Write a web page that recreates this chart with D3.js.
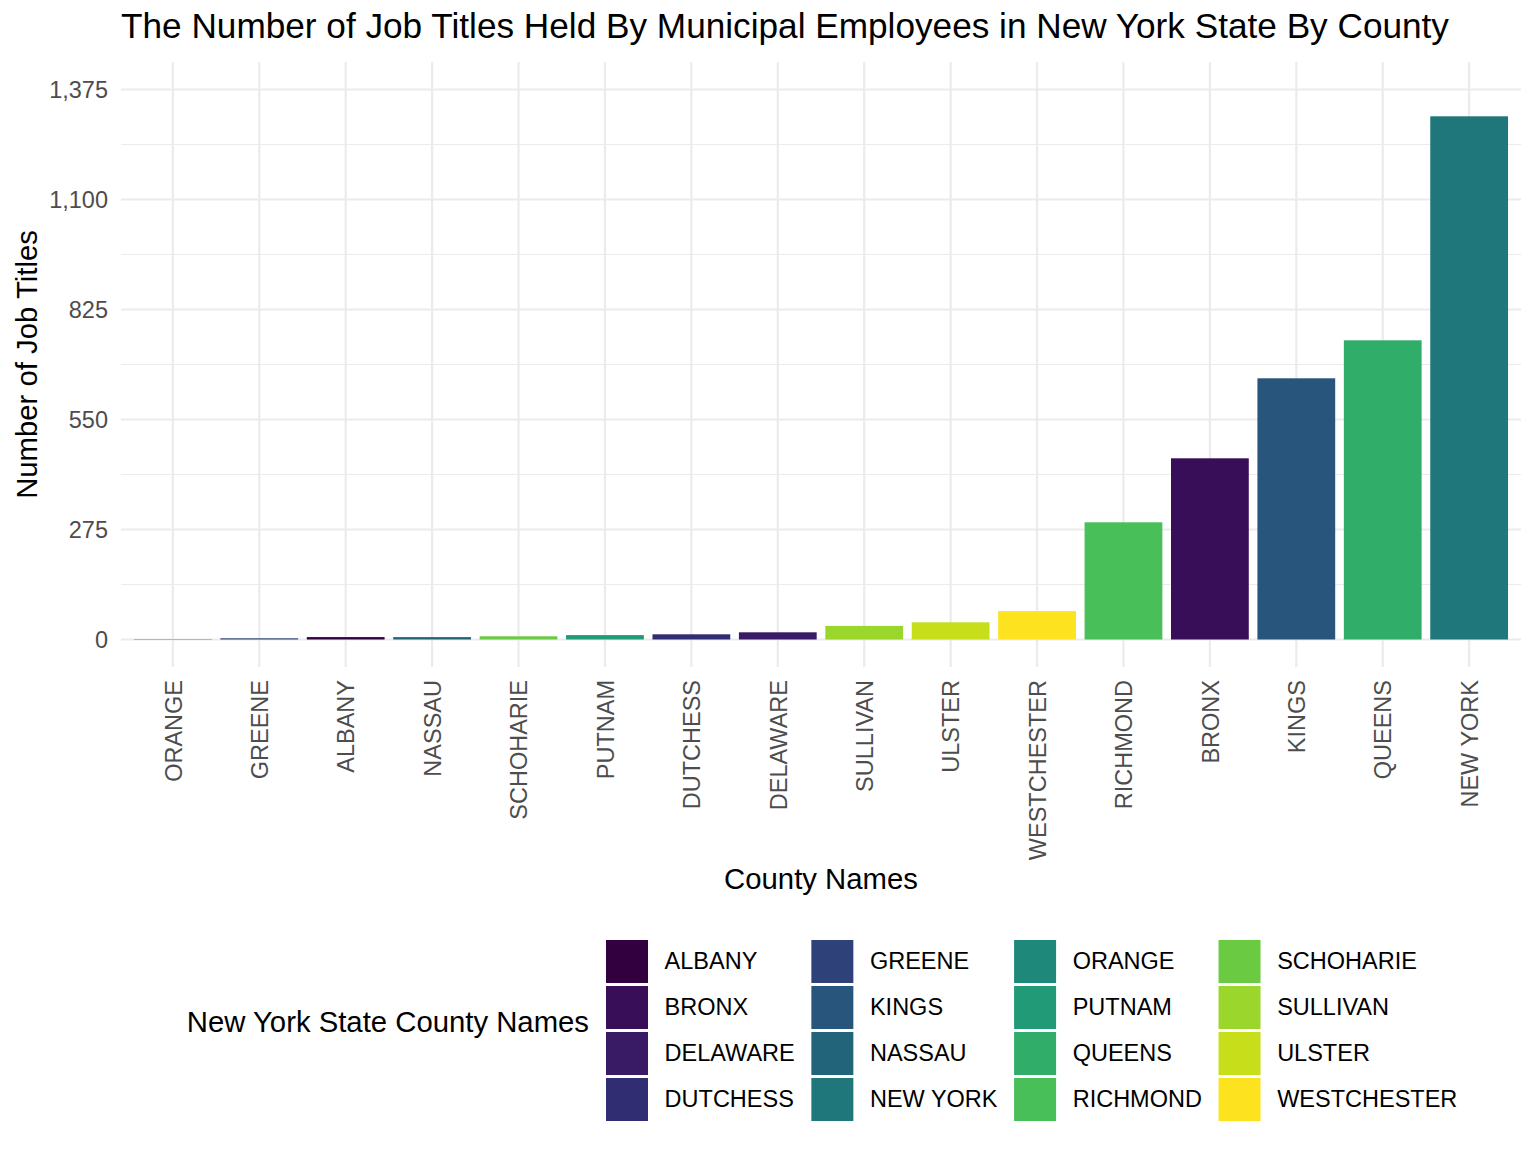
<!DOCTYPE html>
<html>
<head>
<meta charset="utf-8">
<script src="https://cdn.jsdelivr.net/npm/d3@7"></script>
<style>
  body { margin: 0; background: #fff; }
  svg text { font-family: "Liberation Sans", Arial, Helvetica, sans-serif; }
</style>
</head>
<body>
<div id="chart"></div>
<script>
// counties in the order they appear on the x axis (sorted by count)
const counties = ["ORANGE", "GREENE", "ALBANY", "NASSAU", "SCHOHARIE", "PUTNAM", "DUTCHESS", "DELAWARE",
  "SULLIVAN", "ULSTER", "WESTCHESTER", "RICHMOND", "BRONX", "KINGS", "QUEENS", "NEW YORK"];
const jobTitles = [1, 3, 6, 6, 8, 11, 13, 18, 34, 43, 71, 293, 453, 653, 748, 1308];
const yTicks = [0, 275, 550, 825, 1100, 1375];
const yMinorTicks = [137.5, 412.5, 687.5, 962.5, 1237.5];
// legend / fill order (alphabetical, like the factor levels)
const legendCounties = ["ALBANY", "BRONX", "DELAWARE", "DUTCHESS", "GREENE", "KINGS", "NASSAU", "NEW YORK",
  "ORANGE", "PUTNAM", "QUEENS", "RICHMOND", "SCHOHARIE", "SULLIVAN", "ULSTER", "WESTCHESTER"];
const palette = ["#33003f", "#390e58", "#391b65", "#312d72", "#2e4179", "#27557b", "#22657b", "#1f777b",
  "#1e897a", "#219a77", "#31ad6a", "#48bf58", "#6aca42", "#9ad62c", "#c7df1a", "#fde31f"];

const data = counties.map((c, i) => ({ county: c, value: jobTitles[i] }));

const width = 1536, height = 1152;
const panel = { left: 121, right: 1521, top: 62, bottom: 667 };

const svg = d3.select("#chart").append("svg")
  .attr("width", width)
  .attr("height", height);

// discrete scale with ggplot style 0.6 expansion on each side
const x = d3.scalePoint()
  .domain(counties)
  .range([panel.left, panel.right])
  .padding(0.6);
const step = x.step();

// limits 0..1375 with 5% expansion
const y = d3.scaleLinear()
  .domain([-68.75, 1443.75])
  .range([panel.bottom, panel.top]);

const color = d3.scaleOrdinal().domain(legendCounties).range(palette);

// grid
svg.append("g").selectAll("line.minor")
  .data(yMinorTicks)
  .join("line")
  .attr("x1", panel.left).attr("x2", panel.right)
  .attr("y1", d => y(d)).attr("y2", d => y(d))
  .attr("stroke", "#ebebeb").attr("stroke-width", 1.1);

svg.append("g").selectAll("line.major")
  .data(yTicks)
  .join("line")
  .attr("x1", panel.left).attr("x2", panel.right)
  .attr("y1", d => y(d)).attr("y2", d => y(d))
  .attr("stroke", "#ebebeb").attr("stroke-width", 2.2);

svg.append("g").selectAll("line")
  .data(counties)
  .join("line")
  .attr("x1", d => x(d)).attr("x2", d => x(d))
  .attr("y1", panel.top).attr("y2", panel.bottom)
  .attr("stroke", "#ebebeb").attr("stroke-width", 2.2);

// bars
svg.append("g").selectAll("rect")
  .data(data)
  .join("rect")
  .attr("x", d => x(d.county) - step * 0.45)
  .attr("width", step * 0.9)
  .attr("y", d => y(d.value))
  .attr("height", d => y(0) - y(d.value))
  .attr("fill", d => color(d.county));

// y axis labels
const yAxis = svg.append("g")
  .attr("transform", "translate(" + panel.left + ",0)")
  .call(d3.axisLeft(y).tickValues(yTicks).tickSize(0).tickPadding(13).tickFormat(d3.format(",")));
yAxis.select(".domain").remove();
yAxis.selectAll("text")
  .attr("fill", "#4d4d4d")
  .style("font-size", "23.5px");

// x axis labels, rotated
const xAxis = svg.append("g")
  .attr("transform", "translate(0," + panel.bottom + ")")
  .call(d3.axisBottom(x).tickSize(0));
xAxis.select(".domain").remove();
xAxis.selectAll("text")
  .attr("fill", "#4d4d4d")
  .style("font-size", "23.5px")
  .attr("text-anchor", "end")
  .attr("transform", "translate(0,13) rotate(-90)")
  .attr("x", 0)
  .attr("y", 0)
  .attr("dy", "0.35em");

// titles
svg.append("text")
  .attr("x", panel.left)
  .attr("y", 38)
  .style("font-size", "35.2px")
  .attr("fill", "#000")
  .text("The Number of Job Titles Held By Municipal Employees in New York State By County");

svg.append("text")
  .attr("x", (panel.left + panel.right) / 2)
  .attr("y", 889)
  .attr("text-anchor", "middle")
  .style("font-size", "29.3px")
  .text("County Names");

svg.append("text")
  .attr("transform", "translate(37," + (panel.top + panel.bottom) / 2 + ") rotate(-90)")
  .attr("text-anchor", "middle")
  .style("font-size", "29.3px")
  .text("Number of Job Titles");

// legend: 4 columns x 4 rows, filled column by column
const keySize = 46, textGap = 14.6, colGap = 14.6;
const legendLeft = 604, legendTop = 938, nrow = 4;
const legend = svg.append("g");

// measure label widths to lay out columns
const measure = svg.append("text").style("font-size", "23.5px");
const colWidths = [];
for (let c = 0; c < legendCounties.length / nrow; c++) {
  let w = 0;
  legendCounties.slice(c * nrow, c * nrow + nrow).forEach(name => {
    measure.text(name);
    w = Math.max(w, measure.node().getComputedTextLength());
  });
  colWidths.push(w);
}
measure.remove();
const colX = [legendLeft];
colWidths.forEach((w, i) => colX.push(colX[i] + keySize + textGap + w + colGap));

const items = legend.selectAll("g")
  .data(legendCounties)
  .join("g")
  .attr("transform", (d, i) => {
    const c = Math.floor(i / nrow), r = i % nrow;
    return "translate(" + colX[c] + "," + (legendTop + r * keySize) + ")";
  });

items.append("rect")
  .attr("x", 2).attr("y", 2)
  .attr("width", keySize - 4).attr("height", keySize - 3)
  .attr("fill", d => color(d));

items.append("text")
  .attr("x", keySize + textGap)
  .attr("y", keySize / 2)
  .attr("dy", "0.35em")
  .style("font-size", "23.5px")
  .text(d => d);

svg.append("text")
  .attr("x", legendLeft - 15)
  .attr("y", 1032)
  .attr("text-anchor", "end")
  .style("font-size", "29.3px")
  .text("New York State County Names");
</script>
</body>
</html>
